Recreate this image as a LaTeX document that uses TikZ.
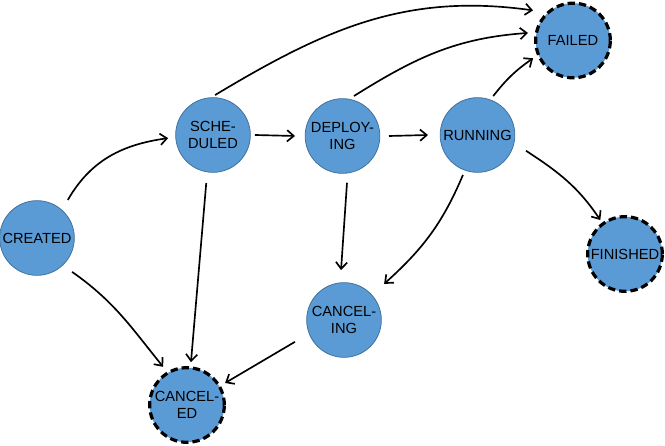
\documentclass[tikz,border=0pt]{standalone}
\usepackage{fontspec}
\setmainfont{Liberation Sans}
\usetikzlibrary{arrows.meta,calc}
\definecolor{stfill}{HTML}{5B9BD5}
\definecolor{stline}{HTML}{41719C}
\begin{document}
\begin{tikzpicture}[x=0.75pt,y=0.75pt,
  state/.style={circle,fill=stfill,draw=stline,line width=0.6pt,minimum size=56pt,inner sep=0pt,
     align=center,font=\fontsize{11pt}{13pt}\selectfont},
  final/.style={state,draw=black,line width=2.4pt,dash pattern=on 5.5pt off 3pt},
  arr/.style={draw=black,line width=1.25pt,-{Straight Barb[length=5pt,width=8.5pt,line width=1.25pt]}}]
\useasboundingbox (0,0) rectangle (665,446);
\node[state] (cr) at (37,208) {CREATED};
\node[state] (sch) at (213,311) {SCHE-\\DULED};
\node[state] (dep) at (342.5,310) {DEPLOY-\\ING};
\node[state] (run) at (477.5,311) {RUNNING};
\node[final] (fail) at (573,405.5) {FAILED};
\node[final] (fin) at (625,192) {FINISHED};
\node[state] (canc) at (344,126) {CANCEL-\\ING};
\node[final] (cancd) at (187,41) {CANCEL-\\ED};

\draw[arr] ($(cr)+(51:49)$) to[out=60,in=188] ($(sch)+(184:45)$);
\draw[arr] ($(sch)+(0:42)$) -- ($(dep)+(180:47.5)$);
\draw[arr] ($(dep)+(0:46.5)$) -- ($(run)+(180:49.5)$);
\draw[arr] ($(sch)+(87:40)$) to[out=31,in=172] ($(fail)+(143:50)$);
\draw[arr] ($(dep)+(74:41.6)$) to[out=32,in=184] ($(fail)+(170.5:45.6)$);
\draw[arr] ($(run)+(68:42)$) to[out=52,in=215] ($(fail)+(204:43.7)$);
\draw[arr] ($(run)+(-18:51)$) to[out=-33,in=124] ($(fin)+(126:42)$);
\draw[arr] ($(run)+(250:42.5)$) to[out=247,in=42] ($(canc)+(42:54)$);
\draw[arr] ($(dep)+(275.5:47)$) -- ($(canc)+(93.4:50)$);
\draw[arr] ($(sch)+(262:48.5)$) -- ($(cancd)+(84.7:43)$);
\draw[arr] ($(cr)+(-44:48.8)$) to[out=-35,in=129] ($(cancd)+(122:45)$);
\draw[arr] ($(canc)+(204:53.7)$) -- ($(cancd)+(30:44)$);
\end{tikzpicture}
\end{document}
